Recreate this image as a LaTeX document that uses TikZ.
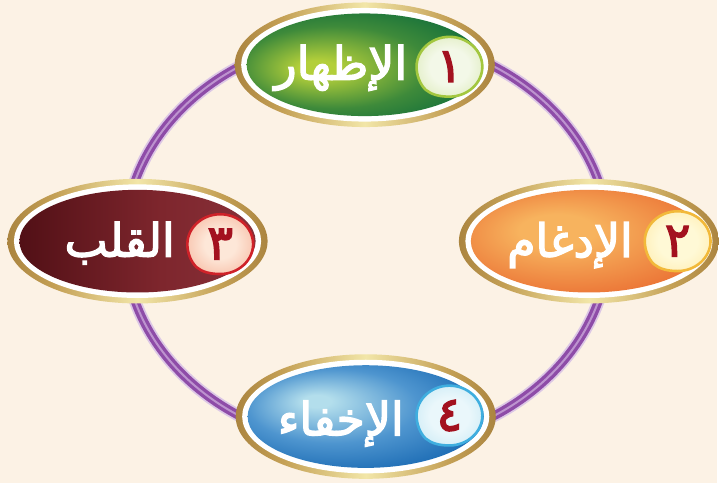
\documentclass[tikz,border=0pt]{standalone}
\usepackage{fontspec}
\newfontfamily\arabicfont[Script=Arabic, FakeBold=3]{DejaVu Sans}
\TeXXeTstate=1
\usetikzlibrary{shapes.geometric}

\definecolor{fond}{HTML}{FCF2E5}
\definecolor{ordark}{HTML}{8C6326}
\definecolor{ormid}{HTML}{C4A055}
\definecolor{orlight}{HTML}{F2E6A8}
\definecolor{anneaumid}{HTML}{8E4CA8}
\definecolor{anneauhalo}{HTML}{DCC7E5}
\definecolor{anneauclair}{HTML}{BD93CF}
\definecolor{vertclair}{HTML}{B3CF3A}
\definecolor{vertmoyen}{HTML}{3E8A3A}
\definecolor{vertfonce}{HTML}{0B6A3B}
\definecolor{orangeclair}{HTML}{F7B35E}
\definecolor{orangefonce}{HTML}{E8632B}
\definecolor{rougefonce}{HTML}{2B0307}
\definecolor{rougesombre}{HTML}{4A0C12}
\definecolor{rougemoyen}{HTML}{7E262D}
\definecolor{rougeclair}{HTML}{873039}
\definecolor{rougebord}{HTML}{5E141A}
\definecolor{bleuclair}{HTML}{B3DEEC}
\definecolor{bleumoyen}{HTML}{4E95CF}
\definecolor{bleufonce}{HTML}{1A6AB3}
\definecolor{pvertc}{HTML}{F3F8E8}
\definecolor{pverte}{HTML}{C6DD8A}
\definecolor{pvertb}{HTML}{A3C73F}
\definecolor{porangec}{HTML}{FFF9D6}
\definecolor{porangee}{HTML}{FDDF86}
\definecolor{porangeb}{HTML}{F2B93A}
\definecolor{prougec}{HTML}{FDE7D8}
\definecolor{prougee}{HTML}{F19070}
\definecolor{prougeb}{HTML}{CF2229}
\definecolor{pbleuc}{HTML}{EAF7FB}
\definecolor{pbleue}{HTML}{A8DCEF}
\definecolor{pbleub}{HTML}{3FAEDF}
\definecolor{chiffrerouge}{HTML}{A3111F}

\pgfdeclarehorizontalshading{cadreor}{100bp}{color(0bp)=(ordark); color(14bp)=(ordark); color(34bp)=(ormid); color(50bp)=(orlight); color(66bp)=(ormid); color(86bp)=(ordark); color(100bp)=(ordark)}
\pgfdeclareradialshading{vertfond}{\pgfpoint{-11bp}{-2bp}}{color(0bp)=(vertclair); color(4bp)=(vertclair); color(20bp)=(vertmoyen); color(34bp)=(vertfonce); color(50bp)=(vertfonce)}
\pgfdeclareradialshading{orangefond}{\pgfpoint{-8bp}{6bp}}{color(0bp)=(orangeclair); color(8bp)=(orangeclair); color(36bp)=(orangefonce); color(50bp)=(orangefonce)}
\pgfdeclarehorizontalshading{rougefond}{100bp}{color(0bp)=(rougefonce); color(20bp)=(rougesombre); color(55bp)=(rougemoyen); color(75bp)=(rougeclair); color(92bp)=(rougebord); color(100bp)=(rougebord)}
\pgfdeclareradialshading{bleufond}{\pgfpoint{-11bp}{8bp}}{color(0bp)=(bleuclair); color(3bp)=(bleuclair); color(18bp)=(bleumoyen); color(32bp)=(bleufonce); color(50bp)=(bleufonce)}
\pgfdeclareradialshading{pvert}{\pgfpoint{0bp}{0bp}}{color(0bp)=(pvertc); color(15bp)=(pvertc); color(50bp)=(pverte)}
\pgfdeclareradialshading{porange}{\pgfpoint{0bp}{0bp}}{color(0bp)=(porangec); color(15bp)=(porangec); color(50bp)=(porangee)}
\pgfdeclareradialshading{prouge}{\pgfpoint{0bp}{0bp}}{color(0bp)=(prougec); color(12bp)=(prougec); color(50bp)=(prougee)}
\pgfdeclareradialshading{pbleu}{\pgfpoint{0bp}{0bp}}{color(0bp)=(pbleuc); color(15bp)=(pbleuc); color(50bp)=(pbleue)}

% contour de la pastille (pointe en bas a gauche)
\newcommand\formegoutte{(-24,23) .. controls (-30,17) and (-33,8) .. (-33,0) .. controls (-33,-16.5) and (-18,-30) .. (0,-30) .. controls (18,-30) and (33,-16.5) .. (33,0) .. controls (33,16.5) and (18,30) .. (0,30) .. controls (-10,30) and (-18,28) .. cycle}

\begin{document}
\begin{tikzpicture}[x=0.5pt,y=-0.5pt]
\tikzset{cadre/.style={ellipse, shade, shading=cadreor, minimum width=130.5pt, minimum height=62.5pt, inner sep=0pt, outer sep=0pt},
  blanc/.style={ellipse, fill=white, minimum width=124pt, minimum height=57pt, inner sep=0pt},
  bulle/.style={ellipse, shade, minimum width=118.5pt, minimum height=51.5pt, inner sep=0pt},
  titre/.style={text=white, inner sep=0pt, font=\arabicfont\fontsize{23}{25}\selectfont},
  chiffre/.style={text=chiffrerouge, inner sep=0pt, font=\arabicfont\fontsize{24}{26}\selectfont},
  goutte/.style={line width=1.3pt},
  anneau/.style={draw=anneaumid, line width=4.4pt, preaction={draw=anneauhalo, line width=6.2pt}, postaction={draw=anneauclair, line width=1pt}}}
\fill[fond] (0,0) rectangle (719,485);
\coordinate (centre) at (368,242);
\draw[anneau] (centre) ellipse [x radius=243, y radius=206];
% 1 en haut
\node[cadre] (izhar) at (366,65) {};
\node[blanc] (izhar-blanc) at (izhar) {};
\node[bulle, shading=vertfond] (izhar-fond) at (izhar) {};
\coordinate (p1) at (451,67);
\begin{scope}[shift={(p1)}]
\shadedraw[goutte, shading=pvert, draw=pvertb] \formegoutte;
\end{scope}
\node[chiffre] (n1) at (p1) {١};
\node[titre] (t1) at (342,68) {\beginR الإظهار\endR};
% 2 a droite
\node[cadre] (idgham) at (591,242) {};
\node[blanc] (idgham-blanc) at (idgham) {};
\node[bulle, shading=orangefond] (idgham-fond) at (idgham) {};
\coordinate (p2) at (680,242);
\begin{scope}[shift={(p2)}]
\shadedraw[goutte, shading=porange, draw=porangeb] \formegoutte;
\end{scope}
\node[chiffre] (n2) at (p2) {٢};
\node[titre] (t2) at (572,246) {\beginR الإدغام\endR};
% 3 a gauche
\node[cadre] (iqlab) at (138,242) {};
\node[blanc] (iqlab-blanc) at (iqlab) {};
\node[bulle, shading=rougefond] (iqlab-fond) at (iqlab) {};
\coordinate (p3) at (221,245);
\begin{scope}[shift={(p3)}]
\shadedraw[goutte, shading=prouge, draw=prougeb] \formegoutte;
\end{scope}
\node[chiffre] (n3) at (p3) {٣};
\node[titre] (t3) at (120,244) {\beginR القلب\endR};
% 4 en bas
\node[cadre] (ikhfa) at (367,418) {};
\node[blanc] (ikhfa-blanc) at (ikhfa) {};
\node[bulle, shading=bleufond] (ikhfa-fond) at (ikhfa) {};
\coordinate (p4) at (451,417);
\begin{scope}[shift={(p4)}]
\shadedraw[goutte, shading=pbleu, draw=pbleub] \formegoutte;
\end{scope}
\node[chiffre] (n4) at (p4) {٤};
\node[titre] (t4) at (342,425) {\beginR الإخفاء\endR};
\end{tikzpicture}
\end{document}
